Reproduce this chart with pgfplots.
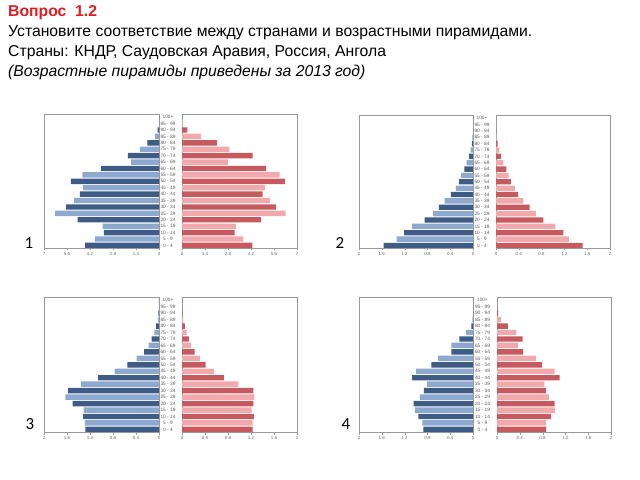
\documentclass[border=0pt]{standalone}
\usepackage{pgfplots}
\pgfplotsset{compat=1.18}
\usepackage{pgfplotstable}
\usepackage{fontspec}
\setmainfont{Liberation Sans}
\newfontfamily\numfont{Carlito}
\definecolor{mdark}{RGB}{62,92,133}
\definecolor{mlight}{RGB}{142,169,207}
\definecolor{fdark}{RGB}{198,90,94}
\definecolor{flight}{RGB}{242,169,172}
\definecolor{qred}{RGB}{220,30,35}

\pgfplotstableread{
i m f
0 4.50 4.29
1 3.90 3.73
2 3.35 3.20
3 3.43 3.29
4 4.95 4.80
5 6.33 6.31
6 5.66 5.73
7 5.17 5.37
8 4.81 4.90
9 4.62 5.06
10 5.37 6.27
11 4.67 5.94
12 3.53 5.12
13 1.70 2.80
14 1.89 4.30
15 1.16 2.88
16 0.71 2.14
17 0.24 1.16
18 0.08 0.33
19 0.01 0.06
20 0.00 0.01
}\russia

\pgfplotstableread{
i m f
0 1.57 1.52
1 1.34 1.28
2 1.21 1.18
3 1.07 1.04
4 0.85 0.83
5 0.70 0.70
6 0.60 0.59
7 0.50 0.48
8 0.39 0.39
9 0.30 0.33
10 0.25 0.26
11 0.21 0.22
12 0.15 0.18
13 0.11 0.13
14 0.07 0.09
15 0.04 0.06
16 0.02 0.03
17 0.01 0.01
18 0.00 0.00
19 0.00 0.00
20 0.00 0.00
}\angola

\pgfplotstableread{
i m f
0 1.28 1.23
1 1.29 1.23
2 1.32 1.25
3 1.31 1.21
4 1.50 1.24
5 1.63 1.26
6 1.58 1.24
7 1.36 0.98
8 1.06 0.73
9 0.77 0.56
10 0.55 0.41
11 0.39 0.31
12 0.26 0.22
13 0.18 0.16
14 0.13 0.12
15 0.08 0.08
16 0.05 0.05
17 0.02 0.02
18 0.01 0.01
19 0.00 0.00
20 0.00 0.00
}\saudi

\pgfplotstableread{
i m f
0 0.87 0.86
1 0.89 0.86
2 0.96 0.95
3 1.02 1.02
4 1.04 1.01
5 0.93 0.91
6 0.86 0.86
7 0.81 0.83
8 1.07 1.10
9 1.00 1.01
10 0.73 0.79
11 0.61 0.68
12 0.38 0.46
13 0.38 0.37
14 0.24 0.45
15 0.12 0.34
16 0.03 0.19
17 0.01 0.07
18 0.00 0.02
19 0.00 0.00
20 0.00 0.00
}\dprk

\pgfplotsset{
  pyr/.style={scale only axis, ymin=-0.4, ymax=20.5,
    axis line style={draw=black!40}, xtick pos=bottom, tick align=outside,
    major tick length=2.5bp, tick style={black!40},
    xticklabel style={font=\fontsize{4.5}{5}\selectfont, text=black!60, inner sep=1.5bp}},
  bars/.style={xbar, bar width=0.84, bar shift=0pt, draw=none, fill=#1},
  even/.style={y filter/.expression={mod(y,2)==0 ? y : nan}},
  odd/.style={y filter/.expression={mod(y,2)==1 ? y : nan}},
}

% #1 table, #2 left x, #3 right x, #4 width, #5 bottom y, #6 height, #7 xmax, #8 ticks, #9 gap/2
\newcommand\pyramid[9]{%
\begin{axis}[pyr, at={(#2bp,#5bp)}, anchor=south west, width=#4bp, height=#6bp,
  x dir=reverse, xmin=0, xmax=#7, xtick={#8}, xticklabels={#8}, ytick=\empty]
\addplot[bars=mdark, even] table[x=m,y=i]{#1};
\addplot[bars=mlight, odd] table[x=m,y=i]{#1};
\end{axis}
\begin{axis}[pyr, at={(#3bp,#5bp)}, anchor=south west, width=#4bp, height=#6bp,
  xmin=0, xmax=#7, xtick={#8}, xticklabels={#8},
  ytick={0,...,20}, ytick pos=left, ytick style={draw=none},
  yticklabels={0 - 4,5 - 9,10 - 14,15 - 19,20 - 24,25 - 29,30 - 34,35 - 39,40 - 44,45 - 49,50 - 54,55 - 59,60 - 64,65 - 69,70 - 74,75 - 79,80 - 84,85 - 89,90 - 94,95 - 99,100+},
  yticklabel style={anchor=center, xshift=-#9bp, font=\fontsize{4.8}{5}\selectfont, text=black!65, inner sep=0pt}]
\addplot[bars=fdark, even] table[x=f,y=i]{#1};
\addplot[bars=flight, odd] table[x=f,y=i]{#1};
\end{axis}}

\begin{document}
\begin{tikzpicture}
\path[use as bounding box] (0bp,0bp) rectangle (640bp,480bp);
\node[anchor=base west, inner sep=0pt, font=\bfseries\fontsize{15.8}{18}\selectfont, text=qred] at (8bp,463bp) {Вопрос\ \ 1.2};
\node[anchor=base west, inner sep=0pt, font=\fontsize{15.8}{18}\selectfont] at (8bp,443bp) {Установите соответствие между странами и возрастными пирамидами.};
\node[anchor=base west, inner sep=0pt, font=\fontsize{15.8}{18}\selectfont] at (8bp,423bp) {Страны: КНДР, Саудовская Аравия, Россия, Ангола};
\node[anchor=base west, inner sep=0pt, font=\itshape\fontsize{15.8}{18}\selectfont] at (8bp,403bp) {(Возрастные пирамиды приведены за 2013 год)};

\pyramid{\russia}{44}{182}{115}{232}{134}{7}{0,1.4,2.8,4.2,5.6,7}{11.5}
\pyramid{\angola}{359}{496}{114}{232}{133}{2}{0,0.4,0.8,1.2,1.6,2}{11.5}
\pyramid{\saudi}{44}{182}{115}{48}{135}{2}{0,0.4,0.8,1.2,1.6,2}{11.5}
\pyramid{\dprk}{359}{497}{114}{48}{135}{2}{0,0.4,0.8,1.2,1.6,2}{12}

\node[font=\numfont\fontsize{17}{18}\selectfont] at (29bp,237bp) {1};
\node[font=\numfont\fontsize{17}{18}\selectfont] at (340bp,237bp) {2};
\node[font=\numfont\fontsize{17}{18}\selectfont] at (30bp,56bp) {3};
\node[font=\numfont\fontsize{17}{18}\selectfont] at (346bp,56bp) {4};
\end{tikzpicture}
\end{document}
